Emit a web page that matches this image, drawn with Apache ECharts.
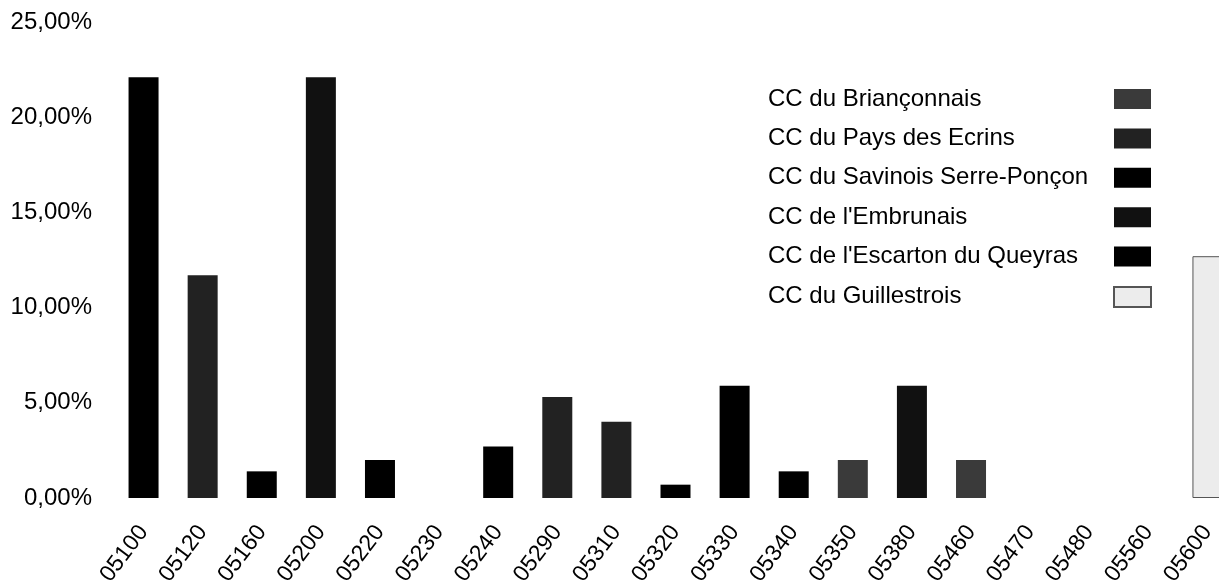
<!DOCTYPE html>
<html>
<head>
<meta charset="utf-8">
<script src="https://cdn.jsdelivr.net/npm/echarts@6/dist/echarts.min.js"></script>
<style>
  html, body { margin: 0; padding: 0; background: #fff; }
  #chart { width: 1219px; height: 583px; }
</style>
</head>
<body>
<div id="chart"></div>
<script>
// ---- data ----
const categories = ['05100','05120','05160','05200','05220','05230','05240','05290','05310','05320','05330','05340','05350','05380','05460','05470','05480','05560','05600'];
const values     = [22.1, 11.7, 1.4, 22.1, 2.0, 0, 2.7, 5.3, 4.0, 0.7, 5.9, 1.4, 2.0, 5.9, 2.0, 0, 0, 0, 12.7];
// index into groupNames for each category
const groupOf    = [4, 1, 2, 3, 4, 2, 4, 1, 1, 4, 4, 4, 0, 3, 0, 0, 4, 5, 5];
const groupNames = ['CC du Briançonnais', 'CC du Pays des Ecrins', 'CC du Savinois Serre-Ponçon', "CC de l'Embrunais", "CC de l'Escarton du Queyras", 'CC du Guillestrois'];
const groupColors = ['#3a3a3a', '#222222', '#000000', '#111111', '#000000', '#ececec'];
const yTicks = [0, 5, 10, 15, 20, 25];

const FONT = "'Liberation Sans', Arial, sans-serif";

const series = groupNames.map((name, g) => ({
  name: name,
  type: 'bar',
  stack: 'all',
  barWidth: 30,
  data: values.map((v, i) => groupOf[i] === g
    ? { value: v, itemStyle: v === 0 ? { borderWidth: 0 } : {} }
    : '-'),
  itemStyle: g === 5
    ? { color: groupColors[g], borderColor: '#555', borderWidth: 1 }
    : { color: groupColors[g] }
}));

const chart = echarts.init(document.getElementById('chart'), null, { renderer: 'canvas' });
chart.setOption({
  animation: false,
  backgroundColor: '#fff',
  grid: { left: 114, right: -18, top: 22, bottom: 85, containLabel: false, outerBoundsMode: 'none' },
  legend: [
    {
      orient: 'vertical',
      left: 763,
      top: 87,
      padding: 0,
      itemWidth: 0,
      itemHeight: 24,
      itemGap: 15.4,
      icon: 'rect',
      selectedMode: false,
      data: groupNames,
      itemStyle: { opacity: 0, borderWidth: 0 },
      textStyle: { fontFamily: FONT, fontSize: 24, color: '#000', lineHeight: 24, padding: 0 }
    },
    {
      orient: 'vertical',
      left: 1113,
      top: 89,
      padding: 0,
      itemWidth: 37,
      itemHeight: 20,
      itemGap: 19.4,
      icon: 'rect',
      selectedMode: false,
      data: groupNames,
      formatter: () => '',
      textStyle: { fontSize: 1 }
    }
  ],
  xAxis: {
    type: 'category',
    data: categories,
    axisLine: { show: false },
    axisTick: { show: false },
    axisLabel: {
      interval: 0,
      rotate: 53,
      margin: 30,
      fontFamily: FONT,
      fontSize: 23,
      color: '#000'
    }
  },
  yAxis: {
    type: 'value',
    min: yTicks[0],
    max: yTicks[yTicks.length - 1],
    interval: yTicks[1] - yTicks[0],
    axisLine: { show: false },
    axisTick: { show: false },
    splitLine: { show: false },
    axisLabel: {
      margin: 22,
      fontFamily: FONT,
      fontSize: 24,
      color: '#000',
      formatter: v => v.toFixed(2).replace('.', ',') + '%'
    }
  },
  series: series
});
</script>
</body>
</html>
